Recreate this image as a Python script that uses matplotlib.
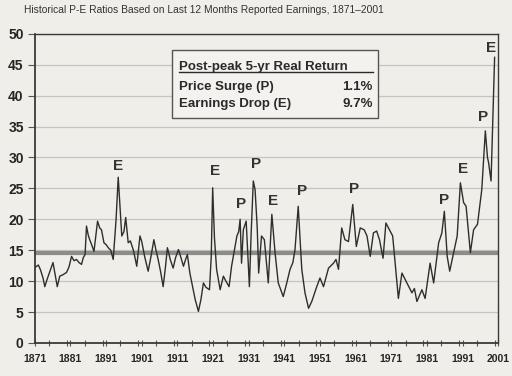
import matplotlib
matplotlib.use("Agg")
import matplotlib.pyplot as plt
from matplotlib.ticker import MultipleLocator
from matplotlib.patches import Rectangle

plt.rcParams['font.family'] = ['Liberation Sans', 'DejaVu Sans']

# P/E ratio (year, ratio)
years = [1871.0, 1872.0, 1872.6, 1873.3, 1873.8, 1874.4, 1875.2, 1876.1, 1876.7, 1877.3,
         1878.0, 1878.8, 1879.9, 1880.6, 1881.3, 1882.0, 1882.7, 1883.4, 1884.1, 1884.6,
         1885.1, 1885.5, 1886.0, 1886.4, 1887.0, 1887.6, 1888.6, 1889.2, 1889.7, 1890.4,
         1891.0, 1891.6, 1892.3, 1893.0, 1893.8, 1894.4, 1894.9, 1895.4, 1896.0, 1896.5,
         1897.2, 1897.8, 1898.6, 1899.1, 1899.6, 1900.5, 1901.0, 1901.8, 1902.8, 1903.6,
         1904.4, 1905.0, 1905.6, 1906.3, 1907.0, 1907.6, 1908.2, 1909.0, 1909.8, 1910.5,
         1911.3, 1912.0, 1912.7, 1913.3, 1913.8, 1914.5, 1915.3, 1916.0, 1916.9, 1917.6,
         1918.3, 1919.0, 1920.0, 1920.5, 1920.9, 1921.4, 1922.0, 1923.0, 1923.9, 1924.6,
         1925.5, 1926.2, 1927.0, 1927.7, 1928.2, 1928.6, 1929.0, 1929.5, 1930.3, 1930.8,
         1931.2, 1931.7, 1932.3, 1932.8, 1933.4, 1933.8, 1934.6, 1935.4, 1936.5, 1937.5,
         1938.4, 1939.3, 1940.7, 1941.6, 1942.6, 1943.4, 1944.0, 1944.9, 1945.9, 1946.8,
         1947.8, 1948.7, 1950.1, 1951.0, 1952.0, 1953.4, 1954.8, 1955.5, 1956.2, 1957.1,
         1958.0, 1959.0, 1960.2, 1961.2, 1962.3, 1963.4, 1964.2, 1965.1, 1966.0, 1966.9,
         1967.7, 1968.7, 1969.5, 1970.5, 1971.4, 1972.1, 1973.0, 1974.0, 1975.4, 1976.8,
         1977.5, 1978.2, 1979.6, 1980.5, 1981.9, 1982.9, 1984.3, 1985.2, 1985.9, 1986.7,
         1987.4, 1988.5, 1989.5, 1990.4, 1991.3, 1992.0, 1993.2, 1994.1, 1995.2, 1996.4,
         1997.4, 1998.0, 1998.3, 1999.0, 2000.0]
pe = [12.2, 12.6, 11.8, 10.5, 9.1, 10.2, 11.5, 13.0, 11.0, 9.1,
      10.8, 11.0, 11.4, 12.3, 14.0, 13.3, 13.5, 13.0, 12.7, 13.8,
      14.3, 18.9, 17.4, 16.7, 15.8, 14.8, 19.7, 18.6, 18.3, 16.2,
      15.9, 15.4, 15.0, 13.5, 20.0, 26.8, 22.0, 17.3, 18.0, 20.3,
      16.2, 16.5, 15.1, 13.8, 12.4, 17.3, 16.4, 14.0, 11.6, 14.0,
      16.7, 15.0, 13.5, 11.5, 9.1, 12.0, 15.4, 13.5, 12.1, 13.8,
      15.1, 13.8, 12.4, 13.5, 14.3, 11.3, 9.0, 7.0, 5.1, 7.0,
      9.7, 9.0, 8.6, 14.0, 25.1, 17.0, 11.9, 8.6, 10.8, 10.0,
      9.1, 12.4, 15.0, 17.3, 18.0, 20.0, 12.9, 18.3, 19.7, 14.0,
      9.1, 17.8, 26.2, 24.8, 18.6, 11.3, 17.3, 16.7, 9.7, 20.8,
      14.6, 9.7, 7.5, 9.5, 11.9, 13.0, 15.1, 22.1, 11.9, 8.1,
      5.6, 6.7, 9.1, 10.5, 9.1, 12.1, 12.9, 13.5, 11.9, 18.6,
      16.7, 16.4, 22.4, 15.6, 18.6, 18.3, 17.3, 14.0, 17.8, 18.1,
      16.7, 13.7, 19.4, 18.3, 17.3, 12.9, 7.2, 11.3, 9.7, 8.1,
      8.8, 6.7, 8.6, 7.2, 12.9, 9.7, 16.2, 17.8, 21.3, 14.0,
      11.6, 14.6, 17.3, 25.9, 22.7, 22.1, 14.6, 18.3, 19.2, 24.8,
      34.3, 30.0, 29.2, 26.2, 46.2]
mean_pe = 14.5

# peak labels
peak_years = [1894.3, 1921.6, 1929.0, 1933.1, 1937.9, 1945.9, 1960.6, 1985.7, 1991.1, 1996.9, 1999.0]
peak_vals = [28.6, 27.8, 22.4, 28.9, 22.9, 24.6, 24.9, 23.2, 28.1, 36.5, 47.7]
peak_tags = ['E', 'E', 'P', 'P', 'E', 'P', 'P', 'P', 'E', 'P', 'E']

x_ticks = list(range(1871, 2002, 10))

bg = '#efeee9'
fig = plt.figure(figsize=(5.12, 3.76), dpi=100, facecolor=bg)
ax = fig.add_axes([0.068, 0.088, 0.905, 0.822], facecolor=bg)

ax.set_xlim(1871, 2001)
ax.set_ylim(0, 50)
ax.yaxis.set_major_locator(MultipleLocator(5))
ax.set_xticks(x_ticks)
ax.xaxis.set_minor_locator(MultipleLocator(5))
ax.yaxis.grid(True, color='#c4c4c2', lw=0.9)
ax.set_axisbelow(True)

ax.axhline(mean_pe, color='#8c8c88', lw=3, zorder=2)
ax.plot(years, pe, color='#2e2e2e', lw=1.0, zorder=3)

for yr, v, t in zip(peak_years, peak_vals, peak_tags):
    ax.text(yr, v, t, ha='center', va='center', fontsize=11, fontweight='bold', color='#333333')

for s in ax.spines.values():
    s.set_color('#3a3a3a')
    s.set_linewidth(1.0)
ax.spines['left'].set_linewidth(1.3)
ax.spines['bottom'].set_linewidth(1.3)

ax.tick_params(axis='y', length=5, width=0.8, color='#555555', labelsize=10, pad=3)
ax.tick_params(axis='x', which='both', direction='inout', length=4, width=0.8, color='#555555',
               labelsize=7.5, pad=6)
for lab in ax.get_yticklabels() + ax.get_xticklabels():
    lab.set_fontweight('bold')
    lab.set_color('#262626')

# legend box
ax.add_patch(Rectangle((0.296, 0.728), 0.445, 0.22, transform=ax.transAxes,
                       facecolor='#f3f2ee', edgecolor='#555555', lw=1.0, zorder=5))
ax.text(0.311, 0.883, 'Post-peak 5-yr Real Return', transform=ax.transAxes, fontsize=9.5,
        fontweight='bold', color='#2a2a2a', va='baseline', zorder=6)
ax.plot([0.311, 0.729], [0.876, 0.876], transform=ax.transAxes, color='#2a2a2a', lw=1.0, zorder=6)
ax.text(0.311, 0.819, 'Price Surge (P)', transform=ax.transAxes, fontsize=9.5,
        fontweight='bold', color='#2a2a2a', va='baseline', zorder=6)
ax.text(0.729, 0.819, '1.1%', transform=ax.transAxes, fontsize=9.5, ha='right',
        fontweight='bold', color='#2a2a2a', va='baseline', zorder=6)
ax.text(0.311, 0.762, 'Earnings Drop (E)', transform=ax.transAxes, fontsize=9.5,
        fontweight='bold', color='#2a2a2a', va='baseline', zorder=6)
ax.text(0.729, 0.762, '9.7%', transform=ax.transAxes, fontsize=9.5, ha='right',
        fontweight='bold', color='#2a2a2a', va='baseline', zorder=6)

fig.text(0.047, 0.988, 'Historical P-E Ratios Based on Last 12 Months Reported Earnings, 1871\u20132001',
         fontsize=7.4, color='#333333', va='top')

fig.savefig('out.png', dpi=100, facecolor=bg)
